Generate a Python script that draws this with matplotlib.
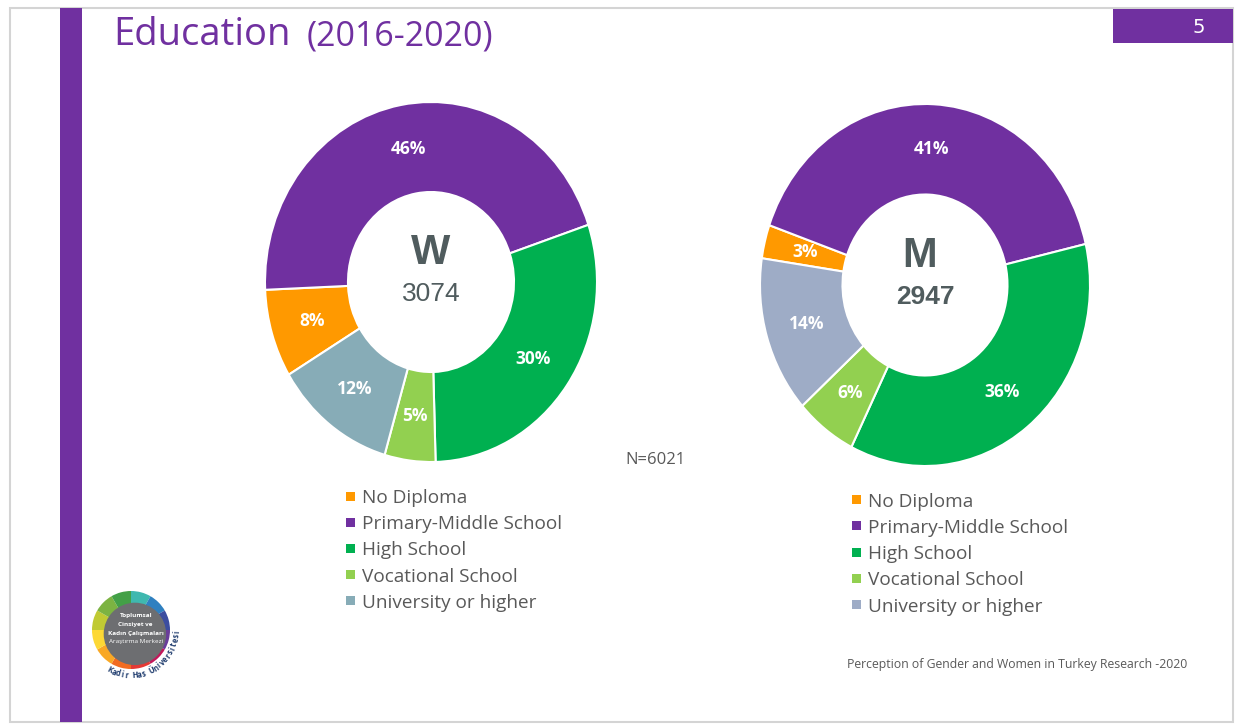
import numpy as np
import matplotlib.pyplot as plt
from matplotlib.patches import Rectangle, Wedge, Circle

W_PX, H_PX = 1237, 725

# ---- data ----
categories = ['No Diploma', 'Primary-Middle School', 'High School',
              'Vocational School', 'University or higher']
women_pct = [8, 46, 30, 5, 12]
men_pct = [3, 41, 36, 6, 14]
women_n = 3074
men_n = 2947
total_n = 6021

colors_w = ['#FF9900', '#7030A0', '#00B050', '#92D050', '#87ACB7']
colors_m = ['#FF9900', '#7030A0', '#00B050', '#92D050', '#9EACC6']

PURPLE = '#7030A0'
GREY_TXT = '#595959'
CENTER_TXT = '#505C5E'
FONT = 'Open Sans'

plt.rcParams['font.family'] = [FONT, 'DejaVu Sans']

fig = plt.figure(figsize=(W_PX / 100, H_PX / 100), dpi=100)
fig.patch.set_facecolor('white')

# background axes in pixel coordinates (y down)
bg = fig.add_axes([0, 0, 1, 1])
bg.set_xlim(0, W_PX)
bg.set_ylim(H_PX, 0)
bg.axis('off')

# slide frame, side bar, page number box
bg.add_patch(Rectangle((10, 8), 1223, 714, fill=False, edgecolor='#d4d4d4', lw=1.5))
bg.add_patch(Rectangle((60, 8), 22, 714, color=PURPLE, lw=0))
bg.add_patch(Rectangle((1113, 9), 120, 34, color=PURPLE, lw=0))
bg.text(1199, 27, '5', color='white', fontsize=14, ha='center', va='center',
        family='DejaVu Sans')

# title
bg.text(113, 45, 'Education', fontsize=27.5, color=PURPLE, va='baseline')
bg.text(307, 45, '(2016-2020)', fontsize=24.5, color=PURPLE, va='baseline')


def donut(cx, cy, rx, ry, values, colors, start, letter, letter_dx, n, n_bold):
    ax = fig.add_axes([(cx - rx) / W_PX, 1 - (cy + ry) / H_PX,
                       2 * rx / W_PX, 2 * ry / H_PX])
    wedges, _ = ax.pie(values, colors=colors, startangle=start, counterclock=False,
                       radius=1, wedgeprops=dict(width=0.5, edgecolor='white', linewidth=1.5))
    ax.set_aspect('auto')
    ax.set_xlim(-1, 1)
    ax.set_ylim(-1, 1)
    for w, v in zip(wedges, values):
        mid = np.deg2rad((w.theta1 + w.theta2) / 2)
        ax.text(0.75 * np.cos(mid), 0.75 * np.sin(mid), f'{v}%', color='white',
                fontsize=12.5, fontweight='bold', ha='center', va='center')
    ax.text(letter_dx, 0.16, letter, fontsize=30, fontweight='bold', color=CENTER_TXT,
            ha='center', va='center', family='Liberation Sans')
    ax.text(0, -0.065, str(n), fontsize=19, color=CENTER_TXT,
            fontweight='bold' if n_bold else 'normal',
            ha='center', va='center', family='Liberation Sans')
    return ax


donut(431, 282, 166, 180, women_pct, colors_w, 211, 'W', 0.0, women_n, False)
donut(925, 285, 165, 181, men_pct, colors_m, 171.5, 'M', -0.035, men_n, True)


def legend(x0, y0, step, colors):
    for i, (cat, col) in enumerate(zip(categories, colors)):
        yc = y0 + i * step
        bg.add_patch(Rectangle((x0, yc - 4.5), 9, 9, color=col, lw=0))
        bg.text(x0 + 16, yc + 7, cat, fontsize=13.7, color=GREY_TXT, va='baseline')


legend(346, 496, 26.2, colors_w)
legend(851.5, 499.5, 26.3, colors_m)

bg.text(625, 464, f'N={total_n}', fontsize=12, color=GREY_TXT, va='baseline')
bg.text(847, 668, 'Perception of Gender and Women in Turkey Research -2020',
        fontsize=8.8, color=GREY_TXT, va='baseline')

# ---- logo (bottom left) ----
lcx, lcy, lr = 131, 630, 39.0
lg = fig.add_axes([85 / W_PX, 1 - 700 / H_PX, 100 / W_PX, 120 / H_PX])
lg.set_xlim((85 - lcx) / lr, (185 - lcx) / lr)
lg.set_ylim(-(700 - lcy) / lr, (lcy - 580) / lr)
lg.axis('off')
ring_colors = ['#3FB8AF', '#2F80C0', '#3B4DA0', '#6A3D9A', '#C2185B', '#E53935',
               '#F26C21', '#F9A825', '#FDD835', '#C0CA33', '#7CB342', '#43A047']
step = 360 / len(ring_colors)
for i, c in enumerate(ring_colors):
    lg.add_patch(Wedge((0, 0), 1.0, 90 - (i + 1) * step, 90 - i * step, color=c, lw=0))
lg.add_patch(Circle((0.1, -0.1), 0.8, color='#6D6E71', lw=0))
for j, (t, fw) in enumerate([('Toplumsal', 'bold'), ('Cinsiyet ve', 'bold'),
                             ('Kadın Çalışmaları', 'bold'), ('Araştırma Merkezi', 'normal')]):
    lg.text(0.12, 0.36 - j * 0.22, t, color='white', fontsize=4.6, fontweight=fw,
            ha='center', va='center')
arc_text = 'Kadir Has Üniversitesi'
angles = np.linspace(-118, -2, len(arc_text))
for ch, a in zip(arc_text, angles):
    r = 1.17
    lg.text(r * np.cos(np.deg2rad(a)), r * np.sin(np.deg2rad(a)), ch, rotation=a + 90,
            color='#1F3C6E', fontsize=5.5, fontweight='bold', ha='center', va='center',
            rotation_mode='anchor')

fig.savefig('out.png', dpi=100, facecolor='white')
